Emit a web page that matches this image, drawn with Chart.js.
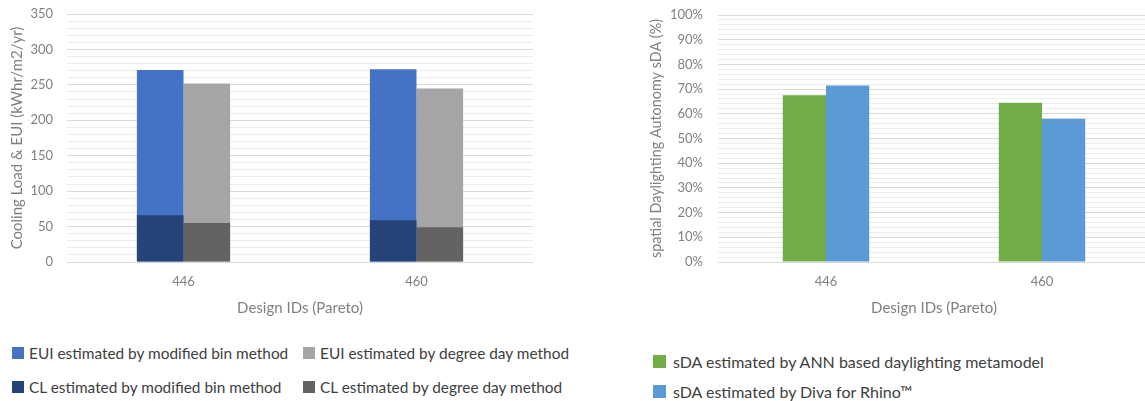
<!DOCTYPE html>
<html>
<head>
<meta charset="utf-8">
<script src="https://cdn.jsdelivr.net/npm/chart.js@4.4.1/dist/chart.umd.min.js"></script>
<style>
  html, body { margin: 0; padding: 0; background: #ffffff; }
  body { width: 1145px; height: 401px; overflow: hidden; position: relative; font-family: Lato, "Open Sans", sans-serif; }
  .wrap { position: absolute; }
  .legend-item { position: absolute; display: flex; align-items: center; white-space: nowrap; color: #404040; }
  .legend-item .sw { display: inline-block; flex: none; }
</style>
</head>
<body>
<div class="wrap" id="leftWrap" style="left:0px; top:0px; width:560px; height:330px;"><canvas id="energyChart"></canvas></div>
<div class="wrap" id="rightWrap" style="left:630px; top:0px; width:530px; height:330px;"><canvas id="sdaChart"></canvas></div>
<div id="energyLegend"></div>
<div id="sdaLegend"></div>
<script>
// Design IDs on the Pareto front
const designIds = ['446', '460'];

// Energy use intensity and cooling load (kWhr/m2/yr)
const euiBin = [271, 272];
const euiDegreeDay = [252, 245];
const clBin = [66, 59];
const clDegreeDay = [55, 49];

// Spatial daylighting autonomy (%)
const sdaAnn = [67.5, 64.5];
const sdaDiva = [71.5, 58];

// Axis tick values
const energyTicks = [0, 50, 100, 150, 200, 250, 300, 350];
const sdaTicks = [0, 10, 20, 30, 40, 50, 60, 70, 80, 90, 100];

const energyLabels = {
  euiBin: 'EUI estimated by modified bin method',
  euiDeg: 'EUI estimated by degree day method',
  clBin: 'CL estimated by modified bin method',
  clDeg: 'CL estimated by degree day method'
};
const sdaLabels = {
  ann: 'sDA estimated by ANN based daylighting metamodel',
  diva: 'sDA estimated by Diva for Rhino\u2122'
};

const COLORS = {
  euiBin: '#4472C4', euiDeg: '#A5A5A5', clBin: '#264478', clDeg: '#636363',
  ann: '#70AD47', diva: '#5B9BD5'
};

const FONT = 'Lato, "Open Sans", sans-serif';
const AXIS_TEXT = '#808080';
const MAJOR_GRID = '#d9d9d9';
const MINOR_GRID = '#ececec';

Chart.defaults.font.family = FONT;
Chart.defaults.animation = false;

function valueAxis(ticks, minorStep, suffix, titleText, titleSize, titlePadTop, axisWidth, tickPad) {
  const majorStep = ticks[1] - ticks[0];
  return {
    min: ticks[0],
    max: ticks[ticks.length - 1],
    stacked: false,
    border: { display: false },
    grid: {
      drawTicks: false,
      color: c => (c.tick && Math.abs(c.tick.value % majorStep) < 1e-6) ? MAJOR_GRID : MINOR_GRID,
      lineWidth: 1
    },
    ticks: {
      stepSize: minorStep,
      autoSkip: false,
      padding: tickPad,
      color: AXIS_TEXT,
      font: { size: 13, family: FONT },
      callback: v => ticks.includes(v) ? v + suffix : ''
    },
    title: {
      display: true,
      text: titleText,
      color: AXIS_TEXT,
      font: { size: titleSize, family: FONT },
      padding: { top: titlePadTop, bottom: 0 }
    },
    afterFit: s => {
      s.width = axisWidth;
      s.paddingTop = 0;
      s.paddingBottom = 0;
    }
  };
}

function categoryAxis() {
  return {
    border: { display: false },
    grid: { display: false, drawTicks: false },
    ticks: { padding: 12, color: AXIS_TEXT, font: { size: 13, family: FONT } },
    title: {
      display: true,
      text: 'Design IDs (Pareto)',
      color: AXIS_TEXT,
      font: { size: 15, family: FONT },
      padding: { top: 9, bottom: 4 }
    },
    afterFit: s => { s.height = 59; }
  };
}

const commonPlugins = { legend: { display: false }, tooltip: { enabled: false } };

// Cooling load drawn over EUI for each estimation method
new Chart(document.getElementById('energyChart'), {
  type: 'bar',
  data: {
    labels: designIds,
    datasets: [
      { label: energyLabels.euiBin, data: euiBin, backgroundColor: COLORS.euiBin, stack: 'bin', order: 2 },
      { label: energyLabels.euiDeg, data: euiDegreeDay, backgroundColor: COLORS.euiDeg, stack: 'deg', order: 2 },
      { label: energyLabels.clBin, data: clBin, backgroundColor: COLORS.clBin, stack: 'bin', order: 1 },
      { label: energyLabels.clDeg, data: clDegreeDay, backgroundColor: COLORS.clDeg, stack: 'deg', order: 1 }
    ]
  },
  options: {
    responsive: true,
    maintainAspectRatio: false,
    layout: { padding: { top: 14, right: 27, bottom: 9, left: 0 } },
    datasets: { bar: { categoryPercentage: 0.4, barPercentage: 1.0, borderWidth: 0 } },
    scales: {
      x: categoryAxis(),
      y: valueAxis(energyTicks, 10, '', 'Cooling Load & EUI (kWhr/m2/yr)', 15, 8, 67, 14)
    },
    plugins: commonPlugins
  }
});

new Chart(document.getElementById('sdaChart'), {
  type: 'bar',
  data: {
    labels: designIds,
    datasets: [
      { label: sdaLabels.ann, data: sdaAnn, backgroundColor: COLORS.ann },
      { label: sdaLabels.diva, data: sdaDiva, backgroundColor: COLORS.diva }
    ]
  },
  options: {
    responsive: true,
    maintainAspectRatio: false,
    layout: { padding: { top: 15, right: 10, bottom: 9, left: 0 } },
    datasets: { bar: { categoryPercentage: 0.4, barPercentage: 1.0, borderWidth: 0 } },
    scales: {
      x: categoryAxis(),
      y: valueAxis(sdaTicks, 2, '%', 'spatial Daylighting Autonomy sDA (%)', 14.4, 18, 88, 15)
    },
    plugins: commonPlugins
  }
});

// Legends below each chart
function addLegend(containerId, items, font, sw) {
  const box = document.getElementById(containerId);
  items.forEach(it => {
    const el = document.createElement('div');
    el.className = 'legend-item';
    el.style.left = it.x + 'px';
    el.style.top = (it.cy - 12) + 'px';
    el.style.height = '24px';
    el.style.fontSize = font + 'px';
    const s = document.createElement('span');
    s.className = 'sw';
    s.style.width = sw + 'px';
    s.style.height = sw + 'px';
    s.style.background = it.color;
    s.style.marginRight = it.gap + 'px';
    const t = document.createElement('span');
    t.textContent = it.text;
    el.appendChild(s);
    el.appendChild(t);
    box.appendChild(el);
  });
}

addLegend('energyLegend', [
  { x: 12, cy: 353, color: COLORS.euiBin, text: energyLabels.euiBin, gap: 5 },
  { x: 303, cy: 353, color: COLORS.euiDeg, text: energyLabels.euiDeg, gap: 5 },
  { x: 12, cy: 387, color: COLORS.clBin, text: energyLabels.clBin, gap: 5 },
  { x: 303, cy: 387, color: COLORS.clDeg, text: energyLabels.clDeg, gap: 5 }
], 15.4, 12);

addLegend('sdaLegend', [
  { x: 653, cy: 361, color: COLORS.ann, text: sdaLabels.ann, gap: 7 },
  { x: 653, cy: 391, color: COLORS.diva, text: sdaLabels.diva, gap: 7 }
], 16, 13);
</script>
</body>
</html>
